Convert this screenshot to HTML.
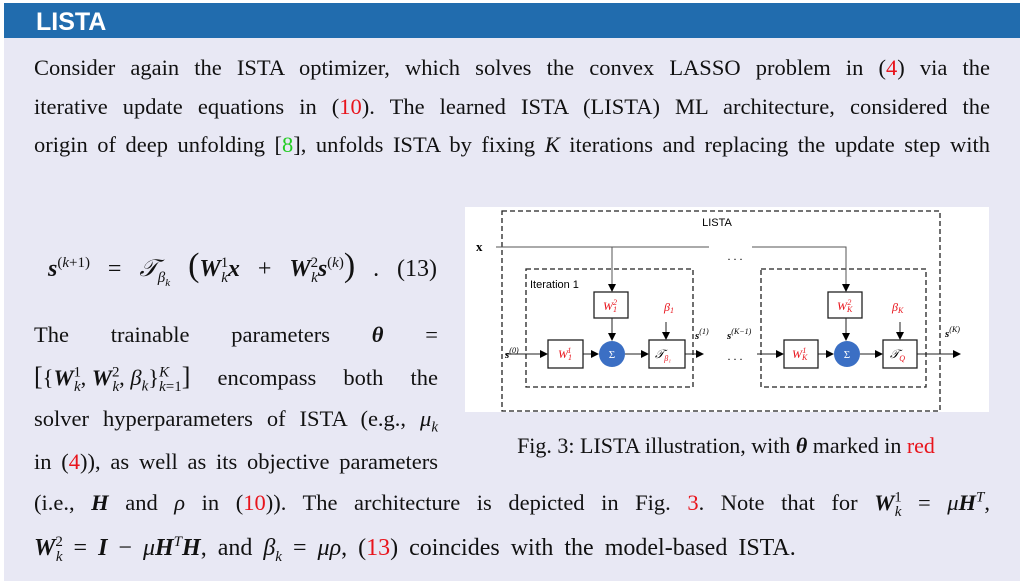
<!DOCTYPE html>
<html><head><meta charset="utf-8"><style>
html,body{margin:0;padding:0;width:1024px;height:587px;overflow:hidden;background:#fff;}
#panel{position:absolute;left:4px;top:3px;width:1016px;height:578px;background:#e8e8f4;}
#hdr{position:absolute;left:4px;top:3px;width:1016px;height:35px;background:#216cae;}
#hdr span{position:absolute;left:32px;top:5px;font:bold 25px "Liberation Sans",sans-serif;color:#fff;}
.l{position:absolute;font:22.5px "Liberation Serif",serif;color:#111;white-space:nowrap;line-height:24px;}
.j{text-align:justify;text-align-last:justify;}
.r{color:#e8141c}.g{color:#22cc22}
i{font-style:italic}
.b{font-weight:bold;font-style:italic}
.m{display:inline-block}
sub,sup{font-size:15px;line-height:0}
</style></head><body>
<div id="panel"></div>
<div id="hdr"><span>LISTA</span></div>

<div class="l j" style="left:34px;top:56px;width:956px">Consider again the ISTA optimizer, which solves the convex LASSO problem in (<span class="r">4</span>) via the</div>
<div class="l j" style="left:34px;top:95px;width:956px">iterative update equations in (<span class="r">10</span>). The learned ISTA (LISTA) ML architecture, considered the</div>
<div class="l j" style="left:34px;top:133px;width:956px">origin of deep unfolding [<span class="g">8</span>], unfolds ISTA by fixing <i>K</i> iterations and replacing the update step with</div>

<div class="l j" style="left:48px;top:254px;width:389px;font-size:24px"><span class="m"><span class="b">s</span><sup>(<i>k</i>+1)</sup></span> = <span class="m"><i>𝒯</i><sub><i>β<sub style="font-size:11px">k</sub></i></sub></span> <span class="m"><span style="font-size:34px">(</span><span class="b">W</span><sup>1</sup><sub style="margin-left:-7px"><i>k</i></sub><span class="b">x</span></span> + <span class="m"><span class="b">W</span><sup>2</sup><sub style="margin-left:-7px"><i>k</i></sub><span class="b">s</span><sup>(<i>k</i>)</sup><span style="font-size:34px">)</span></span> . (13)</div>

<div class="l j" style="left:34px;top:323px;width:404px">The trainable parameters <span class="b">θ</span> =</div>
<div class="l j" style="left:34px;top:365px;width:404px"><span class="m"><span style="font-size:26px">[</span>{<span class="b">W</span><sup>1</sup><sub style="margin-left:-7px"><i>k</i></sub>, <span class="b">W</span><sup>2</sup><sub style="margin-left:-7px"><i>k</i></sub>, <i>β<sub>k</sub></i>}<sup><i>K</i></sup><sub style="margin-left:-10px"><i>k</i>=1</sub><span style="font-size:26px">]</span></span> encompass both the</div>
<div class="l j" style="left:34px;top:407px;width:404px">solver hyperparameters of ISTA (e.g., <i>μ<sub>k</sub></i></div>
<div class="l j" style="left:34px;top:450px;width:404px">in (<span class="r">4</span>)), as well as its objective parameters</div>

<div class="l j" style="left:34px;top:491px;width:956px">(i.e., <span class="b">H</span> and <i>ρ</i> in (<span class="r">10</span>)). The architecture is depicted in Fig. <span class="r">3</span>. Note that for <span class="m"><span class="b">W</span><sup>1</sup><sub style="margin-left:-7px"><i>k</i></sub></span> = <i>μ</i><span class="b">H</span><sup><i>T</i></sup>,</div>
<div class="l" style="left:34px;top:536px;font-size:24px;word-spacing:5px"><span class="b">W</span><sup>2</sup><sub style="margin-left:-7px"><i>k</i></sub> = <span class="b">I</span> − <i>μ</i><span class="b">H</span><sup><i>T</i></sup><span class="b">H</span>, and <i>β<sub>k</sub></i> = <i>μρ</i>, (<span class="r">13</span>) coincides with the model-based ISTA.</div>

<svg style="position:absolute;left:0;top:0" width="1024" height="587" font-family="Liberation Serif, serif">
<defs><marker id="a" markerWidth="8" markerHeight="8" refX="7" refY="4" orient="auto" markerUnits="userSpaceOnUse"><path d="M0,0 L8,4 L0,8z" fill="#000"/></marker></defs>
<rect x="465" y="207" width="524" height="205" fill="#fff"/>
<g fill="none" stroke="#222" stroke-width="1.3" stroke-dasharray="5,3">
<rect x="502" y="211" width="438" height="200"/>
<rect x="526" y="269" width="167" height="118"/>
<rect x="761" y="269" width="165" height="118"/>
</g>
<text x="717" y="226" font-family="Liberation Sans,sans-serif" font-size="11" text-anchor="middle">LISTA</text>
<text x="530" y="288" font-family="Liberation Sans,sans-serif" font-size="11">Iteration 1</text>
<text x="476" y="251" font-size="13" font-weight="bold">x</text>
<g stroke="#555" stroke-width="1" fill="none">
<path d="M496 247H709M752 247H846V291"/>
<path d="M612 247V291" marker-end="url(#a)"/>
<path d="M846 247V291" marker-end="url(#a)"/>
</g>
<g stroke="#222" stroke-width="1" fill="none" marker-end="url(#a)">
<path d="M612 318V340"/><path d="M846 318V340"/>
<path d="M666 322V339"/><path d="M900 322V339"/>
<path d="M505 354H547"/><path d="M583 354H598"/><path d="M625 354H648"/><path d="M685 354H703"/>
<path d="M757 354H783"/><path d="M818 354H833"/><path d="M860 354H882"/><path d="M917 354H960"/>
</g>
<g fill="#fff" stroke="#222" stroke-width="1.3">
<rect x="594" y="292" width="34" height="26"/><rect x="548" y="340" width="35" height="28"/><rect x="649" y="340" width="36" height="28"/>
<rect x="828" y="292" width="34" height="26"/><rect x="784" y="340" width="34" height="28"/><rect x="883" y="340" width="34" height="28"/>
</g>
<circle cx="612" cy="354" r="13" fill="#3b6fc4"/><circle cx="847" cy="354" r="13" fill="#3b6fc4"/>
<text x="612" y="358" font-size="11" fill="#fff" text-anchor="middle">Σ</text>
<text x="847" y="358" font-size="11" fill="#fff" text-anchor="middle">Σ</text>
<g fill="#e8141c" font-style="italic" font-size="12">
<text x="603" y="310">W<tspan font-size="8" dy="2">1</tspan><tspan font-size="8" dy="-7" dx="-4">2</tspan></text>
<text x="558" y="358">W<tspan font-size="8" dy="2">1</tspan><tspan font-size="8" dy="-7" dx="-4">1</tspan></text>
<text x="837" y="310">W<tspan font-size="8" dy="2">K</tspan><tspan font-size="8" dy="-7" dx="-5">2</tspan></text>
<text x="792" y="358">W<tspan font-size="8" dy="2">K</tspan><tspan font-size="8" dy="-7" dx="-5">1</tspan></text>
<text x="664" y="311">β<tspan font-size="8" dy="2">1</tspan></text>
<text x="892" y="311">β<tspan font-size="8" dy="2">K</tspan></text>
</g>
<text x="655" y="358" font-size="12" font-style="italic">𝒯<tspan font-size="8" dy="3" fill="#e8141c">β₁</tspan></text>
<text x="890" y="358" font-size="12" font-style="italic">𝒯<tspan font-size="8" dy="3" fill="#e8141c">Q</tspan></text>
<g font-size="11" font-style="italic" font-weight="bold">
<text x="505" y="358">s<tspan font-size="8" dy="-5" font-weight="normal">(0)</tspan></text>
<text x="695" y="339">s<tspan font-size="8" dy="-5" font-weight="normal">(1)</tspan></text>
<text x="727" y="339">s<tspan font-size="8" dy="-5" font-weight="normal">(K−1)</tspan></text>
<text x="945" y="337">s<tspan font-size="8" dy="-5" font-weight="normal">(K)</tspan></text>
</g>
<text x="735" y="260" font-size="12" text-anchor="middle">. . .</text>
<text x="735" y="360" font-size="12" text-anchor="middle">. . .</text>
<text x="726" y="453" font-size="22" text-anchor="middle" fill="#111">Fig. 3: LISTA illustration, with <tspan font-style="italic" font-weight="bold">θ</tspan> marked in <tspan fill="#e8141c">red</tspan></text>
</svg>
</body></html>
